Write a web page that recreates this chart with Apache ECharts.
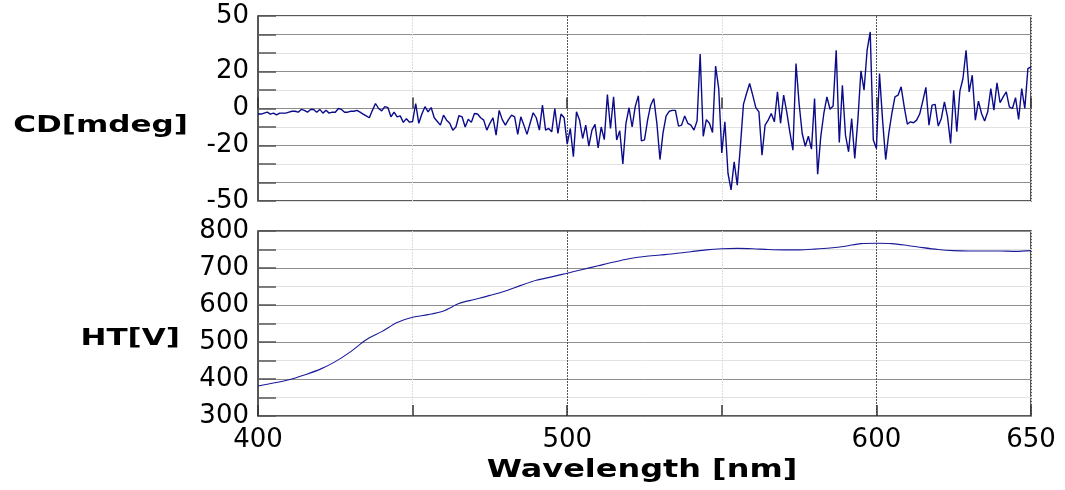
<!DOCTYPE html>
<html>
<head>
<meta charset="utf-8">
<script src="https://cdn.jsdelivr.net/npm/echarts@6/dist/echarts.min.js"></script>
<style>html,body{margin:0;padding:0;background:#fff;}#c{width:1065px;height:490px;}</style>
</head>
<body>
<div id="c"></div>
<script>
// ---- data ----
const cdStart = 400;   // nm, CD sampled every 1 nm
const cdValues = [
  -3,-3,-2.5,-2,-3,-2.5,-3.5,-2.5,-2.5,-2.5,-2,-1.5,-1.5,-2,-0.5,-1,-2,-0.5,-0.5,-2,
  -0.5,-2.5,-1,-2.5,-2,-2,0,-0.5,-2,-2,-1.5,-1.5,-1,-2,-3,-4,-5,
  -1,2.7,0,-1.3,1,0.5,-4.5,-2,-4.5,-4,-7.5,-5.5,-7.4,-7,2.7,-8,-3,1,-1.8,0.5,-5,-7,-9,
  -3.6,-6.3,-8,-11.7,-10,-3.8,-4.5,-10,-5.8,-7.5,-2.7,-3,
  -5,-6.3,-11.7,-8,-5,-14.4,-1,-6,-9,-6,-3.6,-4.5,-14,-4.5,-9,-14,-8,-2.3,-5,-11.7,
  1.8,-11.7,-10.8,-12.6,0,-13.5,-3,-5,-19.3,-10.8,-26,-1.8,-6.3,-16.2,-9,-20.4,-11.7,
  -8.6,-21.3,-10,-16.8,7.6,-10.8,6.3,-17,-12,-30,-8,0.4,-10,1,6.8,-17.5,-17,-6.3,1.8,5.4,
  -8,-27.6,-13,-4,-1.5,-1,-1,-9.5,-9,-4,-8,-9,-11.7,-6.8,29.5,
  -15,-6,-8,-13,22.9,10.8,-24,-7.2,-35,-44,-28.8,-41.4,-20.7,2.2,8.1,13.5,7.2,0.5,-1.8,-25.2,
  -9,-6.3,-2.7,-7.2,9,-8,7.2,-1.8,-12.6,-22.5,24.3,2.7,-13.5,-20.4,-15,
  -22,5.4,-35.5,-15.3,-2.7,6.3,-0.4,1.4,31.5,-18.4,12.6,-14.4,-23.4,-5.4,-27,-6.3,20.4,9.9,31.5,41.4,
  -17,-21.6,18.9,-6.3,-27.6,-13.5,-2.7,6.3,7.2,11.7,0.9,-8.5,-7.2,-7.7,-6.3,-3,
  4,11.4,-9,1.8,2.2,-9.5,-5.4,3.6,-4.5,-18.9,9.9,-12.6,9.4,16.2,31.5,9,18,-6.3,4,-2.7,
  -6.8,-1.8,10.8,-0.9,13.9,3.1,6.3,9,0.9,0,5.9,-5.9,10.8,0,21.6,22.5
];
const htWavelengths = [400,405,410,415,420,425,430,435,440,445,450,455,460,465,470,475,480,485,490,495,
  500,505,510,515,520,525,530,535,540,545,550,555,560,565,570,575,580,585,590,595,
  600,605,610,615,620,625,630,635,640,645,650];
const htValues = [381,389,398,411,426,447,474,506,528,553,567,574,584,604,615,626,638,653,667,676,
  686,696,706,716,725,731,735,739,744,749,752,753,752,750,749,749,751,754,759,766,
  767,766,761,755,750,747,746,746,746,745,747];
const xLabelsShown = [400, 500, 600, 650];
const cdLabelsShown = [50, 20, 0, -20, -50];
const htLabelsShown = [300, 400, 500, 600, 700, 800];

const cdData = cdValues.map((v, i) => [cdStart + i, v]);
const htData = htWavelengths.map((w, i) => [w, htValues[i]]);

const FONT = '"DejaVu Sans", sans-serif';
const lineColor = '#0a0a8a';

function xAxisCfg(gridIndex, showLabels) {
  return {
    type: 'value', gridIndex, min: 400, max: 650, interval: 50,
    axisLine: { show: false },
    axisTick: { show: true, inside: true, length: 11, lineStyle: { color: '#333', width: 1.5 } },
    axisLabel: {
      show: showLabels, margin: 11, color: '#000', fontFamily: FONT, fontSize: 26,
      formatter: v => xLabelsShown.includes(v) ? String(v) : ''
    },
    splitLine: { show: true, lineStyle: { color: ['#555', '#dcdcdc'], width: 1, type: [2, 1] } }
  };
}
function yAxisCfg(gridIndex, min, max, interval, shown, colors) {
  return {
    type: 'value', gridIndex, min, max, interval,
    axisLine: { show: false },
    axisTick: { show: true, inside: true, length: 18, lineStyle: { color: '#555', width: 1.5 } },
    axisLabel: {
      margin: 9, color: '#000', fontFamily: FONT, fontSize: 26,
      formatter: v => shown.includes(v) ? String(v) : ''
    },
    splitLine: { show: true, lineStyle: { color: colors, width: 1 } }
  };
}

const chart = echarts.init(document.getElementById('c'), null, { renderer: 'canvas' });
chart.setOption({
  animation: false,
  backgroundColor: '#fff',
  grid: [
    { left: 258, right: 34, top: 16, height: 185, show: true, borderColor: '#222', borderWidth: 1.5, backgroundColor: 'transparent' },
    { left: 258, right: 34, top: 231, height: 185, show: true, borderColor: '#222', borderWidth: 1.5, backgroundColor: 'transparent' }
  ],
  xAxis: [xAxisCfg(0, false), xAxisCfg(1, true)],
  yAxis: [
    yAxisCfg(0, -50, 50, 10, cdLabelsShown, ['#e2e2e2', '#8e8e8e']),
    yAxisCfg(1, 300, 800, 50, htLabelsShown, ['#8e8e8e', '#e2e2e2'])
  ],
  series: [
    { type: 'line', xAxisIndex: 0, yAxisIndex: 0, data: cdData, showSymbol: false,
      lineStyle: { color: lineColor, width: 1.4 } },
    { type: 'line', xAxisIndex: 1, yAxisIndex: 1, data: htData, showSymbol: false, smooth: 0.3,
      lineStyle: { color: '#1a1a9a', width: 1.1 } }
  ],
  graphic: [
    { type: 'text', x: 188, y: 126, scaleX: 1.35,
      style: { text: 'CD[mdeg]', font: 'bold 23px ' + FONT, fill: '#000', align: 'right', verticalAlign: 'middle' } },
    { type: 'text', x: 180, y: 339, scaleX: 1.35,
      style: { text: 'HT[V]', font: 'bold 23px ' + FONT, fill: '#000', align: 'right', verticalAlign: 'middle' } },
    { type: 'text', x: 642, y: 471, scaleX: 1.33,
      style: { text: 'Wavelength [nm]', font: 'bold 24px ' + FONT, fill: '#000', align: 'center', verticalAlign: 'middle' } }
  ]
});
</script>
</body>
</html>
